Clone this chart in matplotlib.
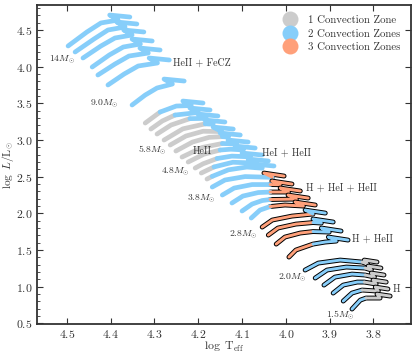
import matplotlib
matplotlib.use('Agg')
import matplotlib.pyplot as plt
from matplotlib.lines import Line2D

plt.rcParams.update({
    'font.family': 'serif',
    'font.serif': ['cmr10'],
    'mathtext.fontset': 'cm',
    'axes.formatter.use_mathtext': True,
})

# ---------------- data (log Teff, log L) per track ----------------
TRACK_NAMES = ['14', '13', '12', '11', '10', '9.5', '9.0',
               '6.0', '5.8', '5.6', '5.4', '5.2', '5.0', '4.8', '4.6', '4.4', '4.2', '4.0',
               '3.8', '3.6', '3.4', '3.2', '3.0',
               '2.8', '2.6', '2.4', '2.2',
               '2.0', '1.9', '1.8', '1.7', '1.6', '1.5']

TRACK_LOGT = [
    [4.497, 4.454, 4.422, 4.383, 4.402, 4.356],
    [4.481, 4.438, 4.406, 4.367, 4.386, 4.340],
    [4.463, 4.422, 4.390, 4.351, 4.370, 4.324],
    [4.442, 4.403, 4.371, 4.332, 4.351, 4.305],
    [4.429, 4.390, 4.358, 4.314, 4.333, 4.287],
    [4.406, 4.369, 4.337, 4.293, 4.312, 4.266],
    [4.351, 4.321, 4.294, 4.259, 4.278, 4.232],
    [4.321, 4.287, 4.250, 4.216, 4.235, 4.189],
    [4.308, 4.282, 4.253, 4.200, 4.219, 4.173],
    [4.294, 4.262, 4.219, 4.182, 4.201, 4.155],
    [4.278, 4.235, 4.184, 4.166, 4.185, 4.139],
    [4.264, 4.228, 4.189, 4.147, 4.166, 4.120],
    [4.251, 4.213, 4.175, 4.145, 4.131, 4.150, 4.104],
    [4.237, 4.191, 4.145, 4.113, 4.132, 4.086],
    [4.223, 4.187, 4.150, 4.126, 4.097, 4.116, 4.070],
    [4.207, 4.189, 4.157, 4.123, 4.081, 4.100, 4.054],
    [4.193, 4.164, 4.121, 4.067, 4.086, 4.040],
    [4.180, 4.168, 4.131, 4.089, 4.054, 4.073, 4.027],
    [4.168, 4.139, 4.093, 4.031, 4.050, 4.004],
    [4.145, 4.118, 4.077, 4.036, 4.013, 4.032, 3.986],
    [4.123, 4.098, 4.063, 4.036, 3.994, 4.013, 3.967],
    [4.100, 4.077, 4.054, 4.036, 3.976, 3.995, 3.949],
    [4.079, 4.059, 4.036, 4.002, 3.960, 3.979, 3.933],
    [4.054, 4.031, 3.986, 3.938, 3.956, 3.910],
    [4.040, 4.018, 3.977, 3.938, 3.919, 3.938, 3.892],
    [4.022, 4.002, 3.967, 3.938, 3.901, 3.919, 3.874],
    [3.993, 3.977, 3.938, 3.910, 3.885, 3.903, 3.858],
    [3.956, 3.926, 3.876, 3.826, 3.814, 3.821, 3.792],
    [3.933, 3.906, 3.862, 3.819, 3.805, 3.812, 3.783],
    [3.913, 3.888, 3.849, 3.819, 3.798, 3.805, 3.776],
    [3.892, 3.869, 3.837, 3.821, 3.794, 3.801, 3.771],
    [3.869, 3.849, 3.826, 3.789, 3.796, 3.767],
    [3.849, 3.830, 3.817, 3.785, 3.792, 3.762],
]

TRACK_LOGL = [
    [4.282, 4.473, 4.596, 4.636, 4.704, 4.677],
    [4.200, 4.377, 4.500, 4.541, 4.609, 4.582],
    [4.118, 4.282, 4.391, 4.432, 4.500, 4.473],
    [3.995, 4.159, 4.268, 4.309, 4.377, 4.350],
    [3.886, 4.036, 4.145, 4.186, 4.254, 4.227],
    [3.750, 3.900, 4.009, 4.050, 4.118, 4.091],
    [3.477, 3.613, 3.709, 3.763, 3.831, 3.804],
    [3.231, 3.381, 3.463, 3.470, 3.531, 3.504],
    [3.149, 3.259, 3.340, 3.375, 3.436, 3.409],
    [3.081, 3.204, 3.291, 3.295, 3.354, 3.327],
    [2.999, 3.152, 3.220, 3.215, 3.272, 3.245],
    [2.931, 3.054, 3.119, 3.115, 3.176, 3.149],
    [2.849, 2.972, 3.036, 3.046, 3.040, 3.095, 3.068],
    [2.767, 2.898, 2.952, 2.945, 2.999, 2.972],
    [2.699, 2.806, 2.863, 2.874, 2.865, 2.917, 2.890],
    [2.617, 2.675, 2.747, 2.780, 2.770, 2.822, 2.795],
    [2.549, 2.632, 2.696, 2.685, 2.740, 2.713],
    [2.467, 2.504, 2.593, 2.631, 2.615, 2.672, 2.645],
    [2.358, 2.454, 2.501, 2.490, 2.549, 2.508],
    [2.249, 2.344, 2.392, 2.392, 2.390, 2.440, 2.399],
    [2.140, 2.235, 2.283, 2.290, 2.290, 2.345, 2.304],
    [2.031, 2.126, 2.174, 2.188, 2.194, 2.249, 2.208],
    [1.935, 2.044, 2.092, 2.113, 2.099, 2.154, 2.113],
    [1.812, 1.908, 1.962, 1.990, 2.044, 2.003],
    [1.703, 1.799, 1.853, 1.874, 1.867, 1.922, 1.881],
    [1.580, 1.676, 1.731, 1.751, 1.744, 1.799, 1.758],
    [1.403, 1.499, 1.580, 1.608, 1.621, 1.676, 1.635],
    [1.226, 1.321, 1.362, 1.335, 1.308, 1.362, 1.335],
    [1.117, 1.226, 1.267, 1.253, 1.226, 1.280, 1.253],
    [1.021, 1.130, 1.171, 1.158, 1.130, 1.185, 1.158],
    [0.912, 1.021, 1.062, 1.062, 1.035, 1.089, 1.062],
    [0.803, 0.912, 0.953, 0.939, 0.994, 0.967],
    [0.694, 0.816, 0.844, 0.844, 0.898, 0.871],
]

# number of convection zones along each segment of a track
TRACK_ZONES = [
    [2, 2, 2, 2, 2], [2, 2, 2, 2, 2], [2, 2, 2, 2, 2], [2, 2, 2, 2, 2],
    [2, 2, 2, 2, 2], [2, 2, 2, 2, 2], [2, 2, 2, 2, 2],
    [1, 2, 2, 2, 2], [1, 1, 2, 2, 2], [1, 1, 2, 2, 2], [1, 1, 2, 2, 2],
    [1, 1, 1, 2, 2], [1, 1, 1, 2, 2, 2], [1, 1, 2, 2, 2], [1, 1, 2, 2, 2, 2],
    [1, 1, 2, 2, 2, 2], [1, 2, 2, 2, 2], [1, 2, 2, 2, 2, 2],
    [2, 2, 2, 3, 3], [2, 2, 2, 3, 3, 3], [2, 2, 2, 3, 3, 3], [2, 2, 2, 3, 3, 3],
    [2, 2, 3, 3, 3, 3],
    [3, 3, 3, 2, 2], [3, 3, 3, 2, 2, 2], [3, 3, 3, 2, 2, 2], [3, 3, 2, 2, 2, 2],
    [2, 2, 2, 1, 1, 1], [2, 2, 2, 1, 1, 1], [2, 2, 2, 1, 1, 1], [2, 2, 2, 1, 1, 1],
    [2, 2, 1, 1, 1], [2, 2, 1, 1, 1],
]

# whole track drawn with a black edge (low-mass tracks)
EDGED_TRACKS = ['2.8', '2.6', '2.4', '2.2', '2.0', '1.9', '1.8', '1.7', '1.6', '1.5']

ZONE_LABELS = ['1 Convection Zone', '2 Convection Zones', '3 Convection Zones']
ZONE_COLORS = ['#cccccc', '#87cefa', '#ffa07a']

MASS_LABELS = ['14', '9.0', '5.8', '4.8', '3.8', '2.8', '2.0', '1.5']
MASS_LABEL_T = [4.511, 4.414, 4.304, 4.253, 4.193, 4.097, 3.986, 3.876]
MASS_LABEL_L = [4.095, 3.497, 2.856, 2.567, 2.201, 1.703, 1.112, 0.612]

REGION_LABELS = ['HeII + FeCZ', 'HeII', 'HeI + HeII', 'H + HeI + HeII', 'H + HeII', 'H']
REGION_T = [4.192, 4.192, 3.998, 3.872, 3.802, 3.748]
REGION_L = [4.043, 2.840, 2.822, 2.351, 1.651, 0.969]

# ---------------- figure ----------------
fig = plt.figure(figsize=(4.16, 3.57), dpi=100)
ax = fig.add_axes([0.0889, 0.0916, 0.8984, 0.8952])

LW = 3.4
LW_CORE = 2.1
TXT = '#333333'


def runs(zones):
    out = []
    start = 0
    for i in range(1, len(zones) + 1):
        if i == len(zones) or zones[i] != zones[start]:
            out.append((start, i, zones[start]))
            start = i
    return out


for name, ts, ls, zs in zip(TRACK_NAMES, TRACK_LOGT, TRACK_LOGL, TRACK_ZONES):
    edged = name in EDGED_TRACKS
    if edged:
        ax.plot(ts, ls, color='black', lw=LW + 0.1, solid_capstyle='round',
                solid_joinstyle='round')
    else:
        for a, b, z in runs(zs):
            if z == 3:
                ax.plot(ts[a:b + 1], ls[a:b + 1], color='black', lw=LW + 0.1,
                        solid_capstyle='round', solid_joinstyle='round')
    for a, b, z in runs(zs):
        core = edged or z == 3
        ax.plot(ts[a:b + 1], ls[a:b + 1], color=ZONE_COLORS[z - 1],
                lw=LW_CORE if core else LW,
                solid_capstyle='round', solid_joinstyle='round')

for lab, t, l in zip(MASS_LABELS, MASS_LABEL_T, MASS_LABEL_L):
    ax.text(t, l, r'$%s M_{\odot}$' % lab, ha='center', va='center',
            fontsize=7, color=TXT)

for lab, t, l in zip(REGION_LABELS, REGION_T, REGION_L):
    ax.text(t, l, lab, ha='center', va='center', fontsize=7.2, color=TXT)

handles = [Line2D([], [], ls='', marker='o', ms=11.5, color=c, mec='none')
           for c in ZONE_COLORS]
leg = ax.legend(handles, ZONE_LABELS, loc='upper right', frameon=False,
                fontsize=7.8, labelspacing=0.35, handletextpad=0.6,
                borderaxespad=0.6)
for t in leg.get_texts():
    t.set_color(TXT)

ax.set_xlim(4.568, 3.715)
ax.set_ylim(0.486, 4.845)
ax.set_xticks([4.5, 4.4, 4.3, 4.2, 4.1, 4.0, 3.9, 3.8])
ax.set_yticks([0.5, 1.0, 1.5, 2.0, 2.5, 3.0, 3.5, 4.0, 4.5])
ax.set_yticks([x / 10 for x in range(5, 49)], minor=True)
ax.tick_params(which='both', direction='in', top=True, right=True,
               labelsize=8.5, colors=TXT)
ax.tick_params(which='major', length=4, width=0.8, pad=3)
ax.tick_params(which='minor', length=2, width=0.6, right=False)
for s in ax.spines.values():
    s.set_linewidth(1.3)
    s.set_color(TXT)

ax.set_xlabel(r'$\log\ \mathrm{T}_{\mathrm{eff}}$', fontsize=8.5, color=TXT)
ax.set_ylabel(r'$\log\ L/\mathrm{L}_{\odot}$', fontsize=8.2, color=TXT)
ax.xaxis.set_label_coords(0.5, -0.05)
ax.yaxis.set_label_coords(-0.056, 0.5)

fig.savefig('out.png', dpi=100)
